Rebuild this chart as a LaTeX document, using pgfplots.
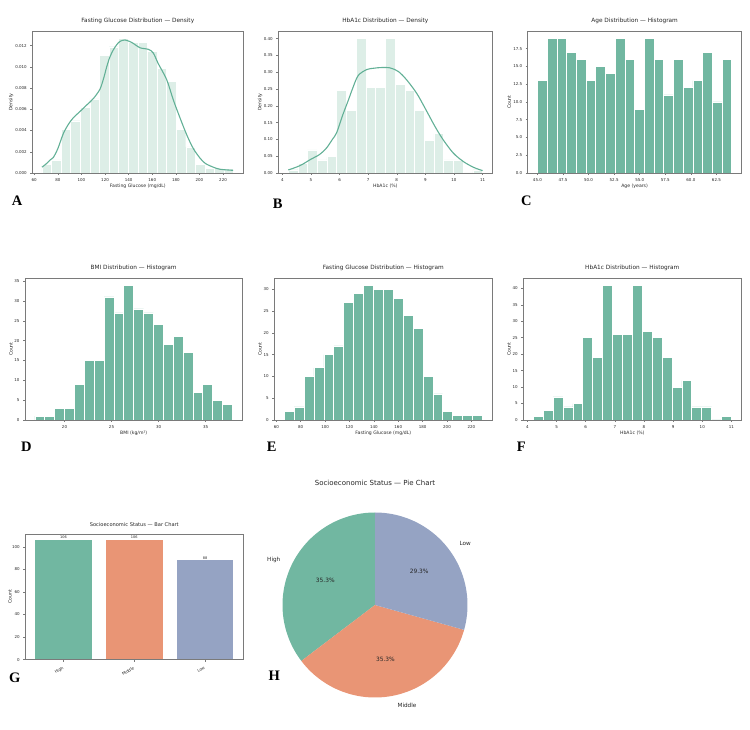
\documentclass[border=0pt]{standalone}
\usepackage{fontspec}
\setmainfont{DejaVu Sans}
\newfontfamily\letterfont{Liberation Serif}
\usepackage{pgfplots}
\pgfplotsset{compat=1.18}
\definecolor{sgreen}{HTML}{71B7A1}
\definecolor{sorange}{HTML}{E99575}
\definecolor{sblue}{HTML}{95A3C3}
\definecolor{hlight}{HTML}{DDEEE7}
\definecolor{kdecol}{HTML}{62B096}
\definecolor{txt}{HTML}{262626}
\definecolor{spine}{HTML}{7A7A7A}

\pgfplotsset{
  panel/.style={
    scale only axis, axis on top,
    anchor=south west,
    axis line style={draw=spine, line width=0.6pt},
    tick align=outside, major tick length=2pt,
    tick style={spine, line width=0.5pt},
    xtick pos=left, ytick pos=left,
    ticklabel style={font=\fontsize{4}{5}\selectfont, text=txt},
    label style={font=\fontsize{4.6}{5.5}\selectfont, text=txt},
    title style={font=\fontsize{5.8}{7}\selectfont, text=txt, at={(axis description cs:0.5,1)}, anchor=base, yshift=3pt},
    xlabel style={at={(axis description cs:0.5,0)}, anchor=base, yshift=-14.3pt},
    ymin=0, scaled ticks=false,
    /pgf/number format/assume math mode=true,
  },
  hist/.style={ybar, bar shift=0pt, bar width=#1, fill=sgreen, draw=white, line width=0.6pt},
  dhist/.style={ybar, bar shift=0pt, bar width=#1, fill=hlight, draw=white, line width=0.4pt},
  kde/.style={kdecol, line width=1.1pt, smooth, no marks},
}

\begin{document}
\begin{tikzpicture}
\path[use as bounding box] (0pt,0pt) rectangle (750pt,729pt);

% ---------------- A: Fasting glucose density ----------------
\begin{axis}[panel, at={(32.3pt,556pt)}, width=211pt, height=141.7pt,
  xmin=58.35, xmax=237.15, ymax=0.01335,
  xtick={60,80,...,220},
  ytick={0,0.002,0.004,0.006,0.008,0.010,0.012},
  yticklabel style={/pgf/number format/.cd, fixed, fixed zerofill, precision=3},
  title={Fasting Glucose Distribution — Density},
  xlabel={Fasting Glucose (mg/dL)}, ylabel={Density},
  ylabel style={at={(axis description cs:-0.101,0.5)}, anchor=center}]
\addplot[dhist=8.125] table {
x y
70.5625 0.000821
78.6875 0.001231
86.8125 0.004103
94.9375 0.004923
103.0625 0.006154
111.1875 0.006974
119.3125 0.011077
127.4375 0.011897
135.5625 0.012718
143.6875 0.012308
151.8125 0.012308
159.9375 0.011487
168.0625 0.009846
176.1875 0.008615
184.3125 0.004103
192.4375 0.002462
200.5625 0.000821
208.6875 0.000410
216.8125 0.000410
224.9375 0.000410
};
\addplot[kde] coordinates {
(66.6,0.00055) (70,0.00085) (73.4,0.00122) (76.1,0.00145) (80,0.0023) (84.6,0.0037)
(89,0.0046) (93.1,0.0052) (98.8,0.0058) (104.4,0.0064) (110,0.0070) (115.7,0.0079)
(119,0.0090) (121.4,0.0100) (124,0.0109) (127,0.0116) (130,0.0121) (132.7,0.0124)
(136.9,0.01253) (142.6,0.0123) (149.6,0.0118) (156.7,0.01165) (160.9,0.0113)
(165.1,0.0103) (172.2,0.0088) (177.8,0.0069) (183.5,0.0052) (189.2,0.0036)
(194.8,0.0023) (200.5,0.0014) (205,0.0009) (211.7,0.00055) (217.5,0.00035) (228.6,0.00025)
};
\end{axis}

% ---------------- B: HbA1c density ----------------
\begin{axis}[panel, at={(278.3pt,556pt)}, width=214pt, height=141.7pt,
  xmin=3.86, xmax=11.34, ymax=0.422,
  xtick={4,5,...,11},
  ytick={0,0.05,0.10,0.15,0.20,0.25,0.30,0.35,0.40},
  yticklabel style={/pgf/number format/.cd, fixed, fixed zerofill, precision=2},
  title={HbA1c Distribution — Density},
  xlabel={HbA1c (\%)}, ylabel={Density},
  ylabel style={at={(axis description cs:-0.0855,0.5)}, anchor=center}]
\addplot[dhist=0.34] table {
x y
4.37 0.0098
4.71 0.0294
5.05 0.0686
5.39 0.0392
5.73 0.0490
6.07 0.2451
6.41 0.1863
6.75 0.4020
7.09 0.2549
7.43 0.2549
7.77 0.4020
8.11 0.2647
8.45 0.2451
8.79 0.1863
9.13 0.0980
9.47 0.1176
9.81 0.0392
10.15 0.0392
10.49 0
10.83 0.0098
};
\addplot[kde] coordinates {
(4.21,0.009) (4.62,0.022) (5.0,0.041) (5.3,0.055) (5.55,0.075) (5.75,0.100)
(5.9,0.120) (6.1,0.170) (6.3,0.215) (6.45,0.250) (6.65,0.290) (6.95,0.308)
(7.2,0.312) (7.45,0.314) (7.77,0.313) (8.06,0.302) (8.35,0.277) (8.70,0.237)
(8.99,0.193) (9.34,0.138) (9.63,0.098) (9.98,0.059) (10.33,0.034) (10.68,0.017) (11.0,0.007)
};
\end{axis}

% ---------------- C: Age histogram ----------------
\begin{axis}[panel, at={(527.7pt,556pt)}, width=213.8pt, height=141.7pt,
  xmin=44.05, xmax=64.95, ymax=19.95,
  xtick={45,47.5,...,62.5}, ytick={0,2.5,...,17.5},
  xticklabel style={/pgf/number format/.cd, fixed, fixed zerofill, precision=1},
  yticklabel style={/pgf/number format/.cd, fixed, fixed zerofill, precision=1},
  title={Age Distribution — Histogram},
  xlabel={Age (years)}, ylabel={Count},
  ylabel style={at={(axis description cs:-0.086,0.5)}, anchor=center}]
\addplot[hist=0.95] table {
x y
45.475 13
46.425 19
47.375 19
48.325 17
49.275 16
50.225 13
51.175 15
52.125 14
53.075 19
54.025 16
54.975 9
55.925 19
56.875 16
57.825 11
58.775 16
59.725 12
60.675 13
61.625 17
62.575 10
63.525 16
};
\end{axis}

% ---------------- D: BMI histogram ----------------
\begin{axis}[panel, at={(25pt,309pt)}, width=217.3pt, height=141.7pt,
  xmin=15.8, xmax=38.9, ymax=35.7,
  xtick={20,25,30,35}, ytick={0,5,...,35},
  title={BMI Distribution — Histogram},
  xlabel={BMI (kg/m²)}, ylabel={Count},
  ylabel style={at={(axis description cs:-0.0644,0.5)}, anchor=center}]
\addplot[hist=1.05] table {
x y
17.375 1
18.425 1
19.475 3
20.525 3
21.575 9
22.625 15
23.675 15
24.725 31
25.775 27
26.825 34
27.875 28
28.925 27
29.975 24
31.025 19
32.075 21
33.125 17
34.175 7
35.225 9
36.275 5
37.325 4
};
\end{axis}

% ---------------- E: Fasting glucose histogram ----------------
\begin{axis}[panel, at={(274.3pt,309pt)}, width=218pt, height=141.7pt,
  xmin=58.35, xmax=237.15, ymax=32.55,
  xtick={60,80,...,220}, ytick={0,5,...,30},
  title={Fasting Glucose Distribution — Histogram},
  xlabel={Fasting Glucose (mg/dL)}, ylabel={Count},
  ylabel style={at={(axis description cs:-0.0656,0.5)}, anchor=center}]
\addplot[hist=8.125] table {
x y
70.5625 2
78.6875 3
86.8125 10
94.9375 12
103.0625 15
111.1875 17
119.3125 27
127.4375 29
135.5625 31
143.6875 30
151.8125 30
159.9375 28
168.0625 24
176.1875 21
184.3125 10
192.4375 6
200.5625 2
208.6875 1
216.8125 1
224.9375 1
};
\end{axis}

% ---------------- F: HbA1c histogram ----------------
\begin{axis}[panel, at={(523.3pt,309pt)}, width=218pt, height=141.7pt,
  xmin=3.86, xmax=11.34, ymax=43.05,
  xtick={4,5,...,11}, ytick={0,5,...,40},
  title={HbA1c Distribution — Histogram},
  xlabel={HbA1c (\%)}, ylabel={Count},
  ylabel style={at={(axis description cs:-0.0656,0.5)}, anchor=center}]
\addplot[hist=0.34] table {
x y
4.37 1
4.71 3
5.05 7
5.39 4
5.73 5
6.07 25
6.41 19
6.75 41
7.09 26
7.43 26
7.77 41
8.11 27
8.45 25
8.79 19
9.13 10
9.47 12
9.81 4
10.15 4
10.49 0
10.83 1
};
\end{axis}

% ---------------- G: Bar chart ----------------
\begin{axis}[panel, at={(25.3pt,69.3pt)}, width=218pt, height=125.7pt,
  xmin=-0.54, xmax=2.54, ymax=111.3,
  xtick={0,1,2}, xticklabels={High,Middle,Low},
  xticklabel style={rotate=30, anchor=north east},
  ytick={0,20,...,100},
  title={Socioeconomic Status — Bar Chart},
  title style={font=\fontsize{5.1}{6}\selectfont, yshift=-1pt},
  ylabel={Count},
  ylabel style={at={(axis description cs:-0.070,0.5)}, anchor=center},
  nodes near coords,
  nodes near coords style={font=\fontsize{3.5}{4}\selectfont, text=txt, anchor=south, inner sep=0.8pt}]
\addplot[ybar, bar shift=0pt, bar width=0.8, fill=sgreen, draw=none] coordinates {(0,106)};
\addplot[ybar, bar shift=0pt, bar width=0.8, fill=sorange, draw=none] coordinates {(1,106)};
\addplot[ybar, bar shift=0pt, bar width=0.8, fill=sblue, draw=none] coordinates {(2,88)};
\end{axis}

% ---------------- H: Pie chart ----------------
\def\nH{106}\def\nM{106}\def\nL{88}
\pgfmathsetmacro\tot{\nH+\nM+\nL}
\pgfmathsetmacro\eH{90+\nH/\tot*360}
\pgfmathsetmacro\eM{\eH+\nM/\tot*360}
\pgfmathsetmacro\eL{\eM+\nL/\tot*360}
\pgfmathsetmacro\mH{(90+\eH)/2}
\pgfmathsetmacro\mM{(\eH+\eM)/2}
\pgfmathsetmacro\mL{(\eM+\eL)/2}
\begin{axis}[at={(375pt,124pt)}, anchor=center, hide axis, clip=false,
  x=92.5pt, y=92.5pt, xmin=-1.35, xmax=1.35, ymin=-1.35, ymax=1.35]
\addplot[draw=none, fill=sgreen, domain=90:\eH, samples=120, variable=\t] ({cos(\t)},{sin(\t)}) -- (axis cs:0,0) -- cycle;
\addplot[draw=none, fill=sorange, domain=\eH:\eM, samples=120, variable=\t] ({cos(\t)},{sin(\t)}) -- (axis cs:0,0) -- cycle;
\addplot[draw=none, fill=sblue, domain=\eM:\eL, samples=120, variable=\t] ({cos(\t)},{sin(\t)}) -- (axis cs:0,0) -- cycle;
\node[anchor=east, font=\fontsize{5.7}{7}\selectfont, text=txt] at (axis cs:{1.1*cos(\mH)},{1.1*sin(\mH)}) {High};
\node[anchor=west, font=\fontsize{5.7}{7}\selectfont, text=txt] at (axis cs:{1.1*cos(\mM)},{1.1*sin(\mM)}) {Middle};
\node[anchor=west, font=\fontsize{5.7}{7}\selectfont, text=txt] at (axis cs:{1.1*cos(\mL)},{1.1*sin(\mL)}) {Low};
\node[font=\fontsize{5.9}{7}\selectfont, text=txt] at (axis cs:{0.6*cos(\mH)},{0.6*sin(\mH)}) {35.3\%};
\node[font=\fontsize{5.9}{7}\selectfont, text=txt] at (axis cs:{0.6*cos(\mM)},{0.6*sin(\mM)}) {35.3\%};
\node[font=\fontsize{5.9}{7}\selectfont, text=txt] at (axis cs:{0.6*cos(\mL)},{0.6*sin(\mL)}) {29.3\%};
\end{axis}
\node[font=\fontsize{7}{8}\selectfont, text=txt] at (375pt,245.7pt) {Socioeconomic Status — Pie Chart};

% ---------------- panel letters ----------------
\begin{scope}[every node/.style={anchor=base west, inner sep=0pt, font=\letterfont\bfseries\fontsize{14.5}{16}\selectfont}]
\node at (11.7pt,523pt) {A};
\node at (272.7pt,520pt) {B};
\node at (521pt,523pt) {C};
\node at (21pt,277.3pt) {D};
\node at (266.7pt,277.3pt) {E};
\node at (516.7pt,277.3pt) {F};
\node at (9pt,46.3pt) {G};
\node at (268.3pt,49pt) {H};
\end{scope}
\end{tikzpicture}
\end{document}
